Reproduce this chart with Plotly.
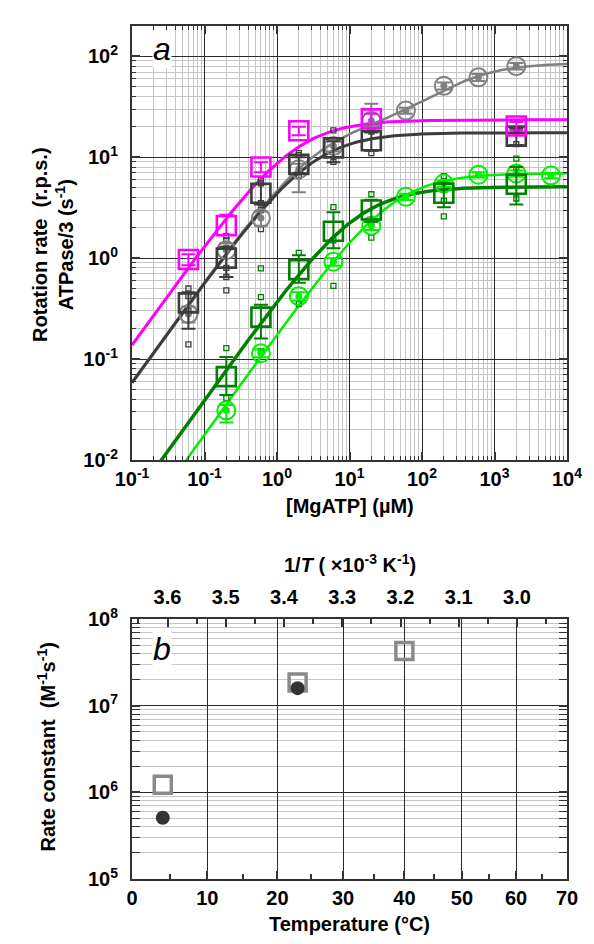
import numpy as np
import plotly.graph_objects as go

FONT = "Liberation Sans, Arial, sans-serif"

# ---------------- Panel a: rate vs [MgATP] ----------------
conc_magenta = [0.06, 0.2, 0.6, 2, 20, 2000]
rate_magenta = [0.97, 2.1, 8.0, 18.3, 24.0, 20.4]
err_magenta_up = [0.12, 0.6, 0.9, 1.8, 3.0, 2.0]
err_magenta_dn = [0.12, 0.4, 0.9, 1.8, 3.0, 2.0]

conc_dark = [0.06, 0.2, 0.6, 2, 6, 20, 2000]
rate_dark = [0.36, 1.0, 4.4, 8.5, 12.4, 14.6, 16.2]
err_dark_up = [0.10, 0.3, 1.0, 1.5, 2.0, 3.0, 3.0]
err_dark_dn = [0.16, 0.35, 1.0, 1.5, 3.5, 3.0, 3.0]

conc_gray = [0.06, 0.2, 0.6, 2, 6, 20, 60, 200, 600, 2000]
rate_gray = [0.28, 1.2, 2.5, 7.6, 12.9, 23.0, 29.0, 51.0, 62.0, 80.0]
err_gray_up = [0.05, 0.2, 0.4, 1.0, 1.5, 11.0, 2.0, 4.0, 5.0, 6.0]
err_gray_dn = [0.05, 0.55, 0.4, 3.1, 1.5, 3.0, 2.0, 4.0, 5.0, 6.0]

conc_dkgreen = [0.2, 0.6, 2, 6, 20, 200, 2000]
rate_dkgreen = [0.067, 0.26, 0.77, 1.85, 3.0, 4.4, 5.4]
err_dkgreen_up = [0.038, 0.085, 0.3, 1.0, 0.8, 1.2, 2.6]
err_dkgreen_dn = [0.023, 0.10, 0.2, 0.6, 0.7, 1.2, 2.0]

conc_ltgreen = [0.2, 0.6, 2, 6, 20, 60, 200, 600, 2000, 6000]
rate_ltgreen = [0.031, 0.114, 0.42, 0.92, 2.1, 4.06, 5.5, 6.7, 6.9, 6.6]
err_ltgreen_up = [0.004, 0.01, 0.04, 0.08, 0.2, 0.3, 0.4, 0.4, 0.5, 0.4]
err_ltgreen_dn = [0.0075, 0.01, 0.04, 0.08, 0.2, 0.3, 0.4, 0.4, 0.5, 0.4]

# individual molecules (small squares)
single_dark_conc = [0.06, 0.06, 0.06, 0.06, 0.2, 0.2, 0.2, 0.2, 0.2, 0.2,
                    0.6, 0.6, 0.6, 0.6, 0.6, 2, 2, 2, 6, 6, 20, 20,
                    2000, 2000, 2000]
single_dark_rate = [0.14, 0.3, 0.42, 0.5, 0.48, 0.65, 0.8, 1.25, 1.5, 1.65,
                    1.94, 3.0, 3.5, 5.5, 6.0, 6.5, 10.5, 11.0, 9.0, 18.5, 11.0, 18.0,
                    13.5, 17.5, 19.0]
single_green_conc = [0.2, 0.2, 0.6, 0.6, 0.6, 2, 2, 6, 6, 6, 20, 20, 20,
                     200, 200, 200, 2000, 2000, 2000]
single_green_rate = [0.041, 0.128, 0.12, 0.41, 0.79, 0.35, 1.13, 0.53, 3.2, 1.5,
                     1.6, 2.2, 4.3, 2.6, 3.7, 6.5, 3.9, 8.0, 9.7]

# Michaelis-Menten fit parameters (Vmax, Km)
fit_magenta = (23.5, 1.7)
fit_dark = (17.5, 3.0)
fit_dkgreen = (5.1, 12.9)
fit_ltgreen = (6.95, 39.0)
# two-site fit (V1, K1, V2, K2)
fit_gray = (20.0, 3.5, 66.0, 300.0)

x_ticks_a = [0.01, 0.1, 1, 10, 100, 1000, 10000]
x_ticktext_a = ["10<sup>-1</sup>", "10<sup>-1</sup>", "10<sup>0</sup>", "10<sup>1</sup>",
                "10<sup>2</sup>", "10<sup>3</sup>", "10<sup>4</sup>"]
y_ticks_a = [0.01, 0.1, 1, 10, 100]
y_ticktext_a = ["10<sup>-2</sup>", "10<sup>-1</sup>", "10<sup>0</sup>", "10<sup>1</sup>", "10<sup>2</sup>"]

# ---------------- Panel b: rate constant vs temperature ----------------
temp_square = [4, 23, 40]
kon_square = [1.23e6, 1.86e7, 4.3e7]
temp_circle = [4, 23]
kon_circle = [5.1e5, 1.6e7]

temp_ticks = [0, 10, 20, 30, 40, 50, 60, 70]
temp_minor = [5, 15, 25, 35, 45, 55, 65]
inv_ticks = [3.6, 3.5, 3.4, 3.3, 3.2, 3.1, 3.0]
inv_minor = [3.65, 3.55, 3.45, 3.35, 3.25, 3.15, 3.05, 2.95]
k_ticks = [1e5, 1e6, 1e7, 1e8]
k_ticktext = ["10<sup>5</sup>", "10<sup>6</sup>", "10<sup>7</sup>", "10<sup>8</sup>"]


def inv_t(t):
    """Celsius -> 1/T in units of 1e-3 K^-1."""
    return [1000.0 / (v + 273.15) for v in t]


def bold(labels):
    return [f"<b>{s}</b>" for s in labels]


MAGENTA = "#ff00ff"
DARK = "#3c3c3c"
GRAY = "#808080"
DKGREEN = "#008000"
LTGREEN = "#00f000"

fig = go.Figure()

xs = np.logspace(-2, 4, 300)


def mm(v, k):
    return v * xs / (k + xs)


curves = [
    (mm(*fit_magenta), MAGENTA, 3),
    (mm(*fit_dkgreen), DKGREEN, 3.5),
    (mm(*fit_ltgreen), LTGREEN, 2.5),
    (fit_gray[0] * xs / (fit_gray[1] + xs) + fit_gray[2] * xs / (fit_gray[3] + xs), GRAY, 2.5),
    (mm(*fit_dark), DARK, 3),
]
for ys, col, w in curves:
    fig.add_trace(go.Scatter(x=xs, y=ys, mode="lines", line=dict(color=col, width=w),
                             hoverinfo="skip"))

# individual points
fig.add_trace(go.Scatter(x=single_dark_conc, y=single_dark_rate, mode="markers",
                         marker=dict(symbol="square-open", size=5, color=DARK, line=dict(width=1.3))))
fig.add_trace(go.Scatter(x=single_green_conc, y=single_green_rate, mode="markers",
                         marker=dict(symbol="square-open", size=5, color=DKGREEN, line=dict(width=1.3))))


def err(up, dn, col):
    return dict(type="data", symmetric=False, array=up, arrayminus=dn,
                color=col, thickness=2, width=7)


def squares(x, y, up, dn, col):
    fig.add_trace(go.Scatter(x=x, y=y, mode="markers", error_y=err(up, dn, col),
                             marker=dict(symbol="square-open", size=19, color=col,
                                         line=dict(width=2.6, color=col))))


def circles(x, y, up, dn, col):
    fig.add_trace(go.Scatter(x=x, y=y, mode="markers", error_y=err(up, dn, col),
                             marker=dict(symbol="circle-open", size=18, color=col,
                                         line=dict(width=2, color=col))))
    fig.add_trace(go.Scatter(x=x, y=y, mode="markers",
                             marker=dict(symbol="circle", size=7, color=col)))


circles(conc_gray, rate_gray, err_gray_up, err_gray_dn, GRAY)
circles(conc_ltgreen, rate_ltgreen, err_ltgreen_up, err_ltgreen_dn, LTGREEN)
squares(conc_dark, rate_dark, err_dark_up, err_dark_dn, DARK)
squares(conc_dkgreen, rate_dkgreen, err_dkgreen_up, err_dkgreen_dn, DKGREEN)
squares(conc_magenta, rate_magenta, err_magenta_up, err_magenta_dn, MAGENTA)

# panel b markers
fig.add_trace(go.Scatter(x=inv_t(temp_square), y=kon_square, xaxis="x2", yaxis="y2",
                         mode="markers",
                         marker=dict(symbol="square-open", size=17, color="#8a8a8a",
                                     line=dict(width=3.5, color="#8a8a8a"))))
fig.add_trace(go.Scatter(x=inv_t(temp_circle), y=kon_circle, xaxis="x2", yaxis="y2",
                         mode="markers",
                         marker=dict(symbol="circle", size=14, color="#333333")))

tickfont = dict(family=FONT, size=20, color="black")


def base_axis(**kw):
    d = dict(showline=True, linecolor="#333333", linewidth=2, mirror="allticks",
             ticks="inside", ticklen=8, tickwidth=1.5, tickcolor="#333333",
             showgrid=True, gridcolor="#2a2a2a", gridwidth=1.2, zeroline=False,
             tickfont=tickfont)
    d.update(kw)
    return d


log_minor = dict(ticks="inside", ticklen=4, tickwidth=1.2, tickcolor="#333333",
                 showgrid=True, gridcolor="#c6c6c6", gridwidth=1.3, dtick="D1")

x2_range = inv_t([0, 70])

fig.update_layout(
    width=594, height=944,
    margin=dict(l=132, r=18, t=12, b=65),
    paper_bgcolor="white", plot_bgcolor="white",
    showlegend=False,
    font=dict(family=FONT, color="black"),
    xaxis=base_axis(type="log", range=[-2, 4], domain=[0, 1], anchor="y",
                    tickmode="array", tickvals=x_ticks_a, ticktext=bold(x_ticktext_a),
                    minor=log_minor),
    yaxis=base_axis(type="log", range=[-2, np.log10(200)], domain=[0.4913, 1], anchor="x",
                    tickmode="array", tickvals=y_ticks_a, ticktext=bold(y_ticktext_a),
                    minor=log_minor, ticklabelstandoff=8),
    xaxis2=base_axis(range=x2_range, domain=[0, 1], anchor="y2", mirror=True,
                     tickmode="array", tickvals=inv_t(temp_ticks),
                     ticktext=bold([str(t) for t in temp_ticks]),
                     minor=dict(ticks="inside", ticklen=5, tickwidth=1.5, tickcolor="#333333",
                                tickmode="array", tickvals=inv_t(temp_minor), showgrid=False)),
    xaxis3=dict(range=x2_range, overlaying="x2", anchor="y2", side="top",
                showline=False, showgrid=False, zeroline=False,
                ticks="inside", ticklen=8, tickwidth=1.5, tickcolor="#333333",
                tickmode="array", tickvals=inv_ticks,
                ticktext=bold([f"{v:.1f}" for v in inv_ticks]),
                tickfont=tickfont, ticklabelstandoff=10,
                minor=dict(ticks="inside", ticklen=5, tickwidth=1.5, tickcolor="#333333",
                           tickmode="array", tickvals=inv_minor, showgrid=False)),
    yaxis2=base_axis(type="log", range=[5, 8], domain=[0, 0.3045], anchor="x2",
                     tickmode="array", tickvals=k_ticks, ticktext=bold(k_ticktext),
                     minor=log_minor, ticklabelstandoff=8),
)

# invisible point so the top 1/T axis is drawn
fig.add_trace(go.Scatter(x=[x2_range[0]], y=[1e4], xaxis="x3", yaxis="y2",
                         mode="markers", marker=dict(size=1, opacity=0), hoverinfo="skip"))

title_font = dict(family=FONT, size=20, color="black")


def note(text, x, y, xref="paper", yref="paper", angle=0, font=title_font, **kw):
    fig.add_annotation(text=text, xref=xref, yref=yref, x=x, y=y, textangle=angle,
                       xanchor="center", yanchor="middle", showarrow=False, font=font, **kw)


label_font = dict(family=FONT, size=32, color="black")
note("<i>a</i>", 0.07, 0.948, xref="x domain", yref="y domain", font=label_font,
     bgcolor="white", borderpad=0)
note("<i>b</i>", 0.07, 0.885, xref="x2 domain", yref="y2 domain", font=label_font,
     bgcolor="white", borderpad=0)
note("<b>[MgATP] (µM)</b>", 0.5, 0.437)
note("<b>Rotation rate  (r.p.s.)<br>ATPase/3 (s<sup>-1</sup>)</b>", -0.18, 0.743, angle=-90)
note("<b>1/<i>T</i> ( ×10<sup>-3</sup> K<sup>-1</sup>)</b>", 0.5, 0.37)
note("<b>Rate constant  (M<sup>-1</sup>s<sup>-1</sup>)</b>", -0.196, 0.155, angle=-90)
note("<b>Temperature (°C)</b>", 0.5, -0.053)

fig.write_html("out.html")
